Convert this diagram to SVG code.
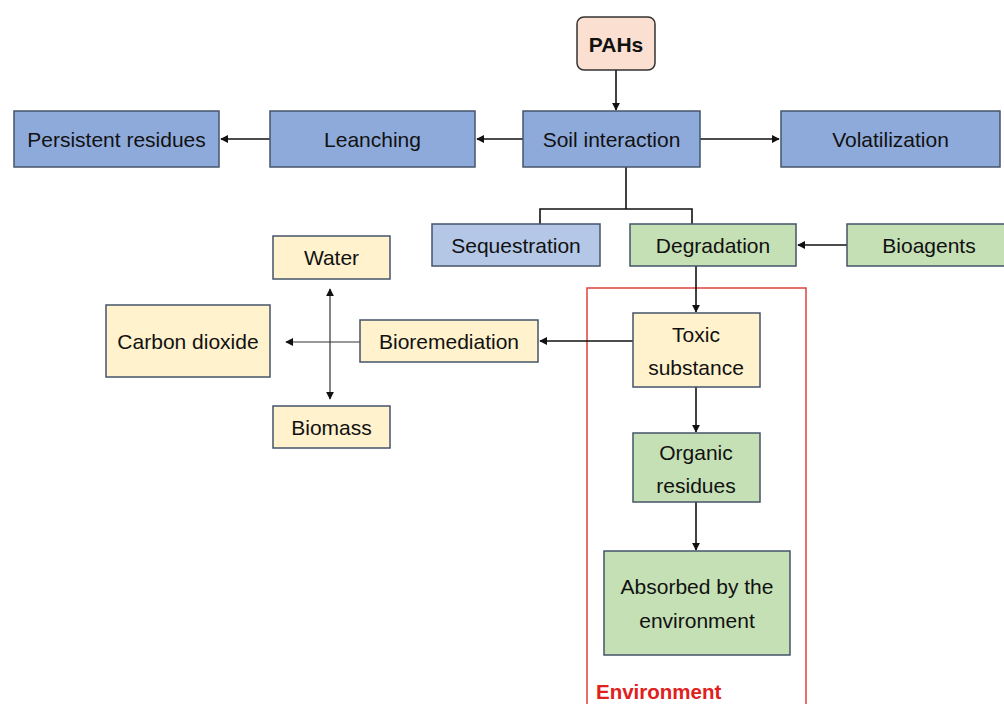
<svg xmlns="http://www.w3.org/2000/svg" width="1004" height="704" viewBox="0 0 1004 704">
<style>
text{font-family:"Liberation Sans",Arial,sans-serif;font-size:21px;fill:#111;text-anchor:middle;dominant-baseline:central}
.blue{fill:#8eaadb;stroke:#44546a;stroke-width:1.5}
.lblue{fill:#b4c7e7;stroke:#44546a;stroke-width:1.5}
.green{fill:#c5e0b4;stroke:#44546a;stroke-width:1.5}
.yellow{fill:#fff2cc;stroke:#44546a;stroke-width:1.5}
.pink{fill:#fbe0d2;stroke:#333;stroke-width:1.5}
.ln{fill:none;stroke:#111;stroke-width:1.6}
.thin{fill:none;stroke:#333;stroke-width:1.2}
</style>
<defs>
<marker id="ah" viewBox="0 0 10 10" refX="9" refY="5" markerWidth="8" markerHeight="8" markerUnits="userSpaceOnUse" orient="auto"><path d="M0,0 L10,5 L0,10 z" fill="#111"/></marker>
</defs>
<rect width="1004" height="704" fill="#fff"/>
<g id="env">
<rect x="587" y="288" width="219" height="430" fill="none" stroke="#e0413d" stroke-width="1.5"/>
<text x="596" y="691" style="text-anchor:start;fill:#e0201c;font-weight:bold;font-size:20.5px">Environment</text>
</g>
<g id="connectors">
<line class="ln" x1="616" y1="70" x2="616" y2="110" marker-end="url(#ah)"/>
<line class="ln" x1="523" y1="139" x2="477" y2="139" marker-end="url(#ah)"/>
<line class="ln" x1="270" y1="139" x2="221" y2="139" marker-end="url(#ah)"/>
<line class="ln" x1="700" y1="139" x2="779" y2="139" marker-end="url(#ah)"/>
<polyline class="ln" points="626,167 626,209"/>
<polyline class="ln" points="540,224 540,209 692,209 692,224"/>
<line class="ln" x1="847" y1="245" x2="798" y2="245" marker-end="url(#ah)"/>
<line class="ln" x1="696" y1="266" x2="696" y2="312" marker-end="url(#ah)"/>
<line class="ln" x1="696" y1="387" x2="696" y2="432" marker-end="url(#ah)"/>
<line class="ln" x1="696" y1="502" x2="696" y2="550" marker-end="url(#ah)"/>
<line class="ln" x1="633" y1="341" x2="540" y2="341" marker-end="url(#ah)"/>
<line class="thin" x1="360" y1="342" x2="286" y2="342" marker-end="url(#ah)"/>
<line class="thin" x1="330" y1="342" x2="330" y2="289" marker-end="url(#ah)"/>
<line class="thin" x1="330" y1="342" x2="330" y2="399" marker-end="url(#ah)"/>
</g>
<g id="pahs"><rect class="pink" x="577" y="17" width="78" height="53" rx="7"/><text x="616" y="44" style="font-weight:bold">PAHs</text></g>
<g id="soil"><rect class="blue" x="523" y="111" width="177" height="56"/><text x="611.5" y="139">Soil interaction</text></g>
<g id="leanching"><rect class="blue" x="270" y="111" width="205" height="56"/><text x="372.5" y="139">Leanching</text></g>
<g id="persistent"><rect class="blue" x="14" y="111" width="205" height="56"/><text x="116.5" y="139">Persistent residues</text></g>
<g id="volatilization"><rect class="blue" x="781" y="111" width="219" height="56"/><text x="890.5" y="139">Volatilization</text></g>
<g id="sequestration"><rect class="lblue" x="432" y="224" width="168" height="42"/><text x="516" y="245">Sequestration</text></g>
<g id="degradation"><rect class="green" x="630" y="224" width="166" height="42"/><text x="713" y="245">Degradation</text></g>
<g id="bioagents"><rect class="green" x="847" y="224" width="170" height="42"/><text x="929" y="245">Bioagents</text></g>
<g id="toxic"><rect class="yellow" x="633" y="313" width="127" height="74"/><text x="696" y="334">Toxic</text><text x="696" y="367">substance</text></g>
<g id="organic"><rect class="green" x="633" y="433" width="127" height="69"/><text x="696" y="452">Organic</text><text x="696" y="485">residues</text></g>
<g id="absorbed"><rect class="green" x="604" y="551" width="186" height="104"/><text x="697" y="586">Absorbed by the</text><text x="697" y="620">environment</text></g>
<g id="bioremediation"><rect class="yellow" x="360" y="320" width="178" height="42"/><text x="449" y="341">Bioremediation</text></g>
<g id="water"><rect class="yellow" x="273" y="236" width="117" height="43"/><text x="331.5" y="257.5">Water</text></g>
<g id="co2"><rect class="yellow" x="106" y="305" width="164" height="72"/><text x="188" y="341">Carbon dioxide</text></g>
<g id="biomass"><rect class="yellow" x="273" y="406" width="117" height="42"/><text x="331.5" y="427">Biomass</text></g>
</svg>
